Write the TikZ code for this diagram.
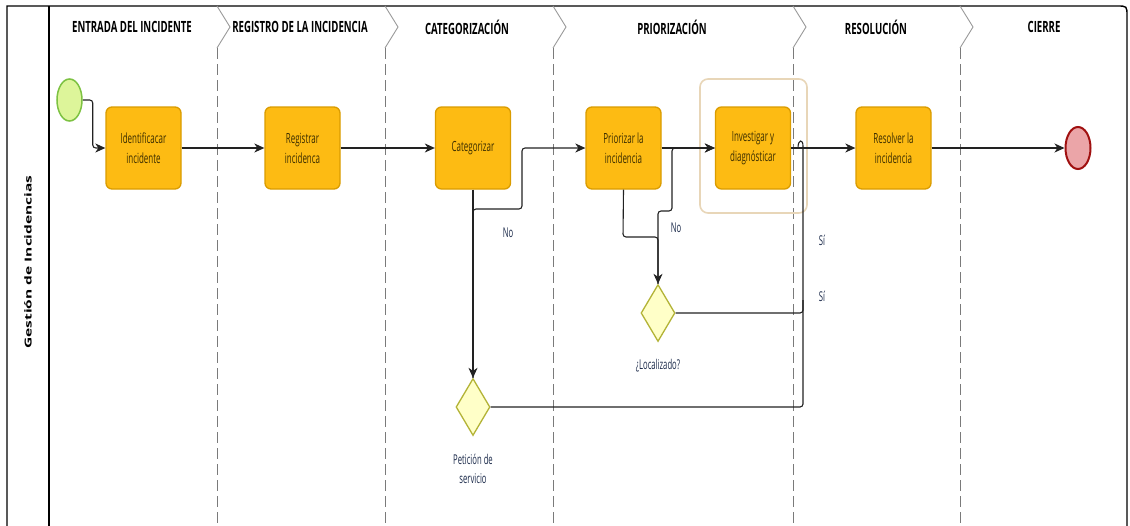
\documentclass[tikz,border=0pt]{standalone}
\usepackage{fontspec}
\usepackage{graphicx}
\setmainfont{Open Sans}
\newfontfamily\nar[FakeStretch=0.62]{Open Sans}
\newfontfamily\narb[FakeStretch=0.57]{Open Sans}
\usetikzlibrary{arrows.meta,shapes.geometric}
\definecolor{boxfill}{HTML}{FDBB13}
\definecolor{boxborder}{HTML}{DA9C00}
\definecolor{boxtext}{HTML}{3C2E00}
\definecolor{gatefill}{HTML}{FFFFC8}
\definecolor{gateborder}{HTML}{B3B336}
\definecolor{startfill}{HTML}{DDF59A}
\definecolor{startborder}{HTML}{7DC242}
\definecolor{endfill}{HTML}{EBA5A8}
\definecolor{endborder}{HTML}{A01010}
\definecolor{framec}{HTML}{E8D6B8}
\definecolor{labc}{HTML}{1C2B4B}
\definecolor{connc}{HTML}{222222}
\definecolor{sepc}{HTML}{7A7A7A}
\definecolor{chevc}{HTML}{9A9A9A}
\newcommand\boxfont{\narb\fontsize{14}{20}\selectfont}
\newcommand\headfont{\nar\bfseries\fontsize{15.5}{18}\selectfont}
\newcommand\labfont{\narb\fontsize{13.5}{19}\selectfont}
\tikzset{
 stepbox/.style={draw=boxborder, fill=boxfill, line width=1.3pt, rounded corners=6pt,
   minimum width=75pt, minimum height=82pt, inner sep=0pt, align=center, text=boxtext, font=\boxfont},
 gate/.style={diamond, draw=gateborder, fill=gatefill, line width=1.3pt,
   minimum width=34pt, minimum height=57pt, inner sep=0pt},
 conn/.style={draw=connc, line width=1.1pt, rounded corners=3pt,
   -{Stealth[length=10pt,width=9pt,inset=3pt]}},
 plain/.style={draw=connc, line width=1.1pt, rounded corners=3pt},
 head/.style={font=\headfont, text=black, inner sep=0pt},
 lab/.style={font=\labfont, text=labc, align=center, inner sep=0pt},
 sep/.style={draw=chevc, line width=0.9pt},
 sepdash/.style={draw=sepc, line width=0.9pt, dash pattern=on 11pt off 5pt},
 pool/.style={draw=black, line width=1.4pt}
}
\begin{document}
\begin{tikzpicture}[x=1pt,y=-1pt]
\clip (0,0) rectangle (1130,525);
\fill[white] (0,0) rectangle (1130,525);
% pool
\draw[pool] (7,560) -- (7,6) -- (1117,6) .. controls (1127,6) .. (1127,16) -- (1127,560);
\draw[pool] (49,6) -- (49,560);
\node[rotate=90, font=\bfseries\fontsize{15.5}{17}\selectfont, inner sep=0pt] (poolname) at (28,262)
  {\scalebox{1}[0.62]{Gestión de Incidencias}};
% phase separators
\foreach \sx in {217,385,553,793,960}{
  \draw[sep] (\sx,6) -- (\sx+13,27) -- (\sx,48);
  \draw[sepdash] (\sx,48) -- (\sx,560);
}
% headers
\node[head] (h1) at (132,27) {ENTRADA DEL INCIDENTE};
\node[head] (h2) at (300,27) {REGISTRO DE LA INCIDENCIA};
\node[head] (h3) at (467,27) {CATEGORIZACIÓN};
\node[head] (h4) at (672,27) {PRIORIZACIÓN};
\node[head] (h5) at (876,27) {RESOLUCIÓN};
\node[head] (h6) at (1044,27) {CIERRE};
% highlight frame
\draw[framec, line width=1.6pt, rounded corners=8pt] (700,79) rectangle (807,213);
% events
\node[ellipse, draw=startborder, fill=startfill, line width=1.5pt, minimum width=25pt, minimum height=42pt, inner sep=0pt] (start) at (69.5,100) {};
\node[ellipse, draw=endborder, fill=endfill, line width=2pt, minimum width=25pt, minimum height=42pt, inner sep=0pt] (end) at (1078,148) {};
% tasks
\node[stepbox] (ident) at (143.5,148) {Identificacar\\incidente};
\node[stepbox] (reg) at (302.5,148) {Registrar\\incidenca};
\node[stepbox] (cat) at (473,148) {Categorizar};
\node[stepbox] (prio) at (623.5,148) {Priorizar la\\incidencia};
\node[stepbox] (inv) at (753,148) {Investigar y\\diagnósticar};
\node[stepbox] (res) at (893.5,148) {Resolver la\\incidencia};
% gateways
\node[gate] (pet) at (473,407) {};
\node[gate] (loc) at (658,313) {};
\node[lab] (petlab) at (473,469) {Petición de\\servicio};
\node[lab] (loclab) at (658,366) {¿Localizado?};
% connectors
\draw[conn] (start.east) -- ++(10,0) |- (ident.west);
\draw[conn] (ident.east) -- (reg.west);
\draw[conn] (reg.east) -- (cat.west);
\draw[conn] (cat.south) -- (pet.north);
\draw[conn] (pet.north) -- (473,209) -- (522,209) -- (522,148) -- (prio.west);
\draw[conn] (prio.east) -- (inv.west);
\draw[conn] (prio.south) -- (623,237) -- (658,237) -- (loc.north);
\draw[conn] (loc.north) -- (658,211) -- (672,211) -- (672,148) -- (inv.west);
\coordinate (join) at (798,148);
\draw[plain] (pet.east) -- (803,407) -- (803,146);
\draw[connc, line width=1.1pt] (803,146) .. controls (803,139) and (798,139) .. (join);
\draw[plain] (loc.east) -- (803,313) -- (803,300);
\draw[conn] (inv.east) -- (res.west);
\draw[conn] (res.east) -- (end.west);
% labels
\node[lab] (no1) at (508,233) {No};
\node[lab] (no2) at (676,228) {No};
\node[lab] (si1) at (822,240) {Sí};
\node[lab] (si2) at (822,296) {Sí};
\end{tikzpicture}
\end{document}
